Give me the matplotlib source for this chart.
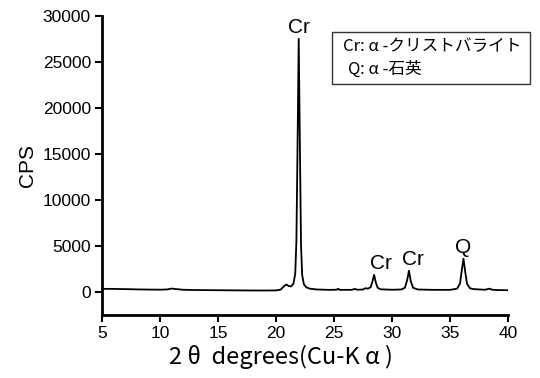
import matplotlib

matplotlib.use("Agg")
import matplotlib.pyplot as plt
from matplotlib.patches import Rectangle

# XRD pattern (2theta in degrees, intensity in CPS)
two_theta = [
    5.0, 6.0, 7.0, 8.0, 9.0, 10.0, 10.6, 11.0, 11.4, 12.0,
    13.0, 14.0, 15.0, 16.0, 17.0, 18.0, 19.0, 20.0, 20.4, 20.7,
    20.9, 21.1, 21.3, 21.5, 21.65, 21.75, 21.85, 21.95, 22.05, 22.15,
    22.25, 22.4, 22.6, 22.9, 23.5, 24.5, 25.2, 25.35, 25.5, 26.5,
    26.8, 27.0, 27.5, 27.7, 27.9, 28.15, 28.3, 28.45, 28.6, 28.75,
    29.0, 30.0, 30.8, 31.1, 31.3, 31.45, 31.6, 31.8, 32.2, 33.5,
    35.0, 35.6, 35.85, 36.0, 36.15, 36.3, 36.45, 36.7, 37.0, 38.0,
    38.4, 38.6, 39.0, 40.0,
]
cps = [
    330, 320, 300, 270, 250, 240, 260, 360, 300, 230,
    200, 190, 180, 170, 160, 150, 150, 160, 250, 650,
    800, 620, 600, 900, 2000, 5500, 16000, 27500, 16000, 5000,
    1800, 800, 500, 350, 260, 220, 230, 330, 220, 220,
    320, 230, 260, 400, 350, 500, 1100, 1850, 1000, 450,
    280, 230, 260, 450, 1300, 2300, 1200, 450, 260, 220,
    220, 350, 900, 2300, 3600, 2200, 900, 400, 300, 230,
    350, 240, 200, 180,
]

peak_theta = [21.95, 28.45, 31.45, 36.15]
peak_labels = ["Cr", "Cr", "Cr", "Q"]

legend_keys = ["Cr", "Q"]
legend_names = [": α -クリストバライト", ": α -石英"]

x_ticks = [5, 10, 15, 20, 25, 30, 35, 40]
y_ticks = [0, 5000, 10000, 15000, 20000, 25000, 30000]

SANS = ["Liberation Sans", "DejaVu Sans"]
JP = ["Noto Sans CJK JP", "DejaVu Sans"]

fig = plt.figure(figsize=(5.4, 3.78), dpi=100)
fig.patch.set_facecolor("white")
ax = fig.add_axes([0.189, 0.167, 0.752, 0.791])

ax.plot(two_theta, cps, color="black", linewidth=1.3)

ax.set_xlim(5, 40)
ax.set_ylim(-2500, 30000)
ax.set_xticks(x_ticks)
ax.set_yticks(y_ticks)
ax.tick_params(direction="out", length=5, width=1.5, labelsize=12.5, pad=3)
for lab in ax.get_xticklabels() + ax.get_yticklabels():
    lab.set_family(SANS)

ax.spines["top"].set_visible(False)
ax.spines["right"].set_visible(False)
ax.spines["left"].set_linewidth(2)
ax.spines["bottom"].set_linewidth(2)

ax.set_ylabel("CPS", fontsize=15, family=SANS, labelpad=4)
ax.set_xlabel("2 θ  degrees(Cu-K α )", fontsize=17, family=JP)
# the original label sits a little left of the axis centre
ax.xaxis.set_label_coords(0.44, -0.1)

# peak labels sit just above each apex
label_dx = [0, 5, 3, 0]
for theta, name, dx in zip(peak_theta, peak_labels, label_dx):
    top = cps[two_theta.index(theta)]
    ax.annotate(name, (theta, top), xytext=(dx, 1), textcoords="offset points",
                ha="center", va="bottom", fontsize=15, family=SANS)

# phase key box
fig.add_artist(Rectangle((0.615, 0.778), 0.367, 0.138, transform=fig.transFigure,
                         facecolor="white", edgecolor="#333333", linewidth=1.0))
for i, (key, name) in enumerate(zip(legend_keys, legend_names)):
    y = 0.877 - i * 0.06
    fig.text(0.667, y, key, ha="right", va="center", fontsize=12, family=JP)
    fig.text(0.667, y, name, ha="left", va="center", fontsize=12, family=JP)

fig.savefig("out.png", dpi=100)
